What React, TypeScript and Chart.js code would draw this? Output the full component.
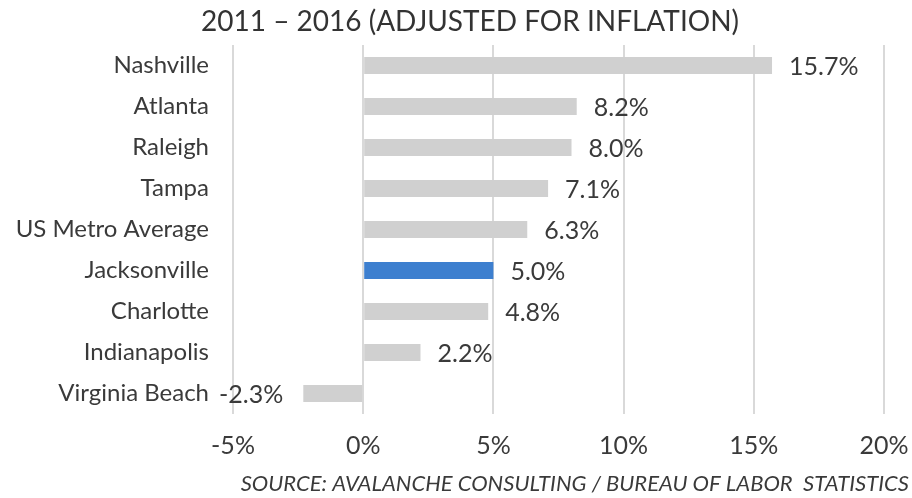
import React, { useEffect, useRef } from "react";
import { Chart, registerables } from "chart.js";

Chart.register(...registerables);

const titleText = "2011 – 2016 (ADJUSTED FOR INFLATION)";
const sourceText = "SOURCE: AVALANCHE CONSULTING / BUREAU OF LABOR  STATISTICS";
const cities = [
  "Nashville",
  "Atlanta",
  "Raleigh",
  "Tampa",
  "US Metro Average",
  "Jacksonville",
  "Charlotte",
  "Indianapolis",
  "Virginia Beach",
];
const growth = [15.7, 8.2, 8.0, 7.1, 6.3, 5.0, 4.8, 2.2, -2.3];
const highlightCity = "Jacksonville";
const xTicks = [-5, 0, 5, 10, 15, 20];

const FONT = "Lato, 'DejaVu Sans', sans-serif";
const TEXT = "#3a3a3a";
const GRAY = "#d0d0d0";
const BLUE = "#3d7fcf";

const labelPlugin = {
  id: "valueLabels",
  afterDatasetsDraw(chart: any) {
    const ctx = chart.ctx;
    const meta = chart.getDatasetMeta(0);
    ctx.save();
    ctx.font = `25px ${FONT}`;
    ctx.fillStyle = TEXT;
    ctx.textBaseline = "middle";
    meta.data.forEach((bar: any, i: number) => {
      const v = growth[i];
      const txt = v.toFixed(1) + "%";
      if (v >= 0) {
        ctx.textAlign = "left";
        ctx.fillText(txt, bar.x + 17, bar.y + 1);
      } else {
        ctx.textAlign = "right";
        ctx.fillText(txt, bar.x - 20, bar.y + 1);
      }
    });
    ctx.restore();
  },
};

const textPlugin = {
  id: "titleSource",
  afterDraw(chart: any) {
    const ctx = chart.ctx;
    ctx.save();
    ctx.fillStyle = "#333333";
    ctx.font = `28px ${FONT}`;
    ctx.textAlign = "center";
    ctx.textBaseline = "middle";
    ctx.fillText(titleText, 470, 22);
    ctx.fillStyle = TEXT;
    ctx.font = `italic 22px ${FONT}`;
    ctx.textAlign = "right";
    ctx.fillText(sourceText, 909, 484);
    ctx.restore();
  },
};

export default function App() {
  const ref = useRef<HTMLCanvasElement>(null);
  useEffect(() => {
    document.body.style.margin = "0";
    const chart = new Chart(ref.current!, {
      type: "bar",
      data: {
        labels: cities,
        datasets: [
          {
            data: growth,
            backgroundColor: cities.map((c) => (c === highlightCity ? BLUE : GRAY)),
            barPercentage: 0.42,
            categoryPercentage: 1,
            borderWidth: 0,
          },
        ],
      },
      options: {
        indexAxis: "y",
        animation: false,
        responsive: false,
        maintainAspectRatio: false,
        layout: { padding: { top: 45, right: 28, bottom: 0, left: 0 } },
        plugins: { legend: { display: false }, tooltip: { enabled: false }, title: { display: false } },
        scales: {
          x: {
            min: xTicks[0],
            max: xTicks[xTicks.length - 1],
            afterBuildTicks: (s: any) => {
              s.ticks = xTicks.map((v) => ({ value: v }));
            },
            grid: { color: "#d9d9d9", lineWidth: 2, drawTicks: false },
            border: { display: false },
            ticks: {
              padding: 17,
              color: TEXT,
              font: { family: FONT, size: 25 },
              callback: (v: any) => v + "%",
            },
            afterFit: (s: any) => {
              s.height = 498 - 45 - 369;
              s.paddingLeft = 0;
              s.paddingRight = 0;
            },
          },
          y: {
            grid: { display: false, drawTicks: false },
            border: { display: false },
            ticks: { padding: 24, color: TEXT, font: { family: FONT, size: 24 } },
            afterFit: (s: any) => {
              s.width = 233;
              s.paddingTop = 0;
              s.paddingBottom = 0;
            },
          },
        },
      },
      plugins: [labelPlugin, textPlugin],
    });
    return () => chart.destroy();
  }, []);
  return <canvas ref={ref} width={912} height={498} style={{ display: "block" }} />;
}
